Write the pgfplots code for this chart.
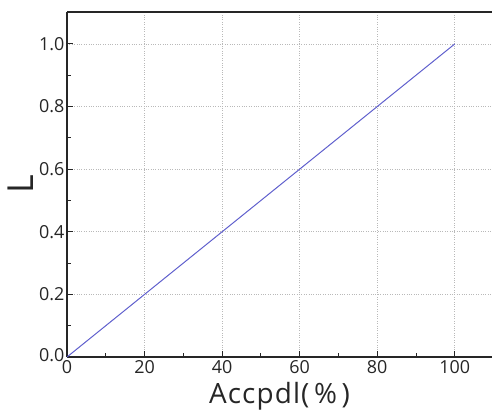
\documentclass[border=0pt]{standalone}
\usepackage{pgfplots}
\pgfplotsset{compat=1.18}
\usepackage{fontspec}
\setmainfont{Open Sans}
\definecolor{linecol}{RGB}{95,95,205}
\begin{document}
\begin{tikzpicture}[x=1bp,y=1bp]
% page frame: axis box from (0,0) to (425,345)
\useasboundingbox (-67,-55) rectangle (425,357);
\begin{axis}[
  at={(0,0)}, anchor=south west,
  scale only axis,
  width=425bp, height=345bp,
  xmin=0, xmax=109.6,
  ymin=0, ymax=1.102,
  axis x line*=box, axis y line*=left,
  axis line style={line width=1.1pt, black!85},
  xtick={0,20,...,100}, ytick={0,0.2,...,1.0},
  minor xtick={10,30,...,90}, minor ytick={0.1,0.3,...,0.9},
  xtick pos=bottom, ytick pos=left,
  tick align=inside,
  major tick length=6bp, minor tick length=4bp,
  every tick/.style={black!85, line width=0.9pt},
  grid=major,
  major grid style={gray!55, dotted, line width=0.8pt},
  % the label at the origin sits a little higher, clear of the x labels
  yticklabel={\pgfmathparse{abs(\tick)<0.01}%
    \ifnum\pgfmathresult=1 \raisebox{4bp}{0.0}%
    \else\pgfmathprintnumber[fixed, fixed zerofill, precision=1]{\tick}\fi},
  yticklabel style={xshift=1bp},
  /pgf/number format/assume math mode=true,
  tick label style={font=\fontsize{18}{20}\selectfont, text=black!85},
  xticklabel style={yshift=0bp},
  xlabel={Accpdl(\,\%\,)},
  ylabel={L},
  xlabel style={font=\fontsize{28}{30}\selectfont\addfontfeatures{LetterSpace=4}, text=black!85,
    at={(rel axis cs:0.5,0)}, anchor=base, yshift=-46bp, inner sep=0pt},
  ylabel style={font=\fontsize{36}{38}\selectfont, text=black!85,
    at={(rel axis cs:0,0.5)}, anchor=south, yshift=33bp, inner sep=0pt},
]
\addplot[linecol, line width=1pt] coordinates {(0,0) (100,1)};
\end{axis}
\end{tikzpicture}
\end{document}
